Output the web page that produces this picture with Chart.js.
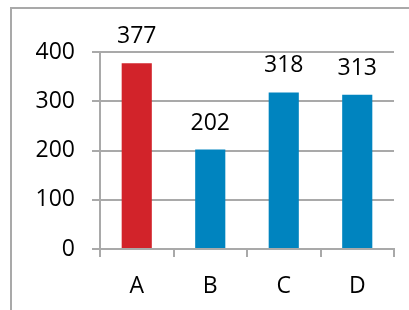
<!DOCTYPE html>
<html>
<head>
<meta charset="utf-8">
<script src="https://cdn.jsdelivr.net/npm/chart.js@4"></script>
<style>
  html, body { margin: 0; padding: 0; background: #fff; }
  #wrap { width: 409px; height: 310px; }
</style>
</head>
<body>
<div id="wrap"><canvas id="chart"></canvas></div>
<script>
const categories = ['A', 'B', 'C', 'D'];
const values = [377, 202, 318, 313];
const yTicks = [0, 100, 200, 300, 400];

const barColors = ['#d2232a', '#0084bf', '#0084bf', '#0084bf'];
const lineGrey = '#a9a9a9';

Chart.defaults.font.family = '"Open Sans", sans-serif';
Chart.defaults.font.size = 23;
Chart.defaults.color = '#000';

// outer frame (left + top edge of the original chart box)
const frame = {
  id: 'frame',
  beforeDraw(chart) {
    const ctx = chart.ctx;
    ctx.save();
    ctx.strokeStyle = lineGrey;
    ctx.lineWidth = 2;
    ctx.beginPath();
    ctx.moveTo(11, chart.height);
    ctx.lineTo(11, 8);
    ctx.lineTo(chart.width, 8);
    ctx.stroke();
    ctx.restore();
  }
};

const valueLabels = {
  id: 'valueLabels',
  afterDatasetsDraw(chart) {
    const ctx = chart.ctx;
    ctx.save();
    ctx.font = '23px "Open Sans"';
    ctx.fillStyle = '#000';
    ctx.textAlign = 'center';
    ctx.textBaseline = 'alphabetic';
    chart.getDatasetMeta(0).data.forEach((bar, i) => {
      ctx.fillText(values[i], bar.x, bar.y - 20);
    });
    ctx.restore();
  }
};

new Chart(document.getElementById('chart'), {
  type: 'bar',
  data: {
    labels: categories,
    datasets: [{
      data: values,
      backgroundColor: barColors,
      borderWidth: 0,
      barPercentage: 0.41,
      categoryPercentage: 1
    }]
  },
  options: {
    responsive: true,
    maintainAspectRatio: false,
    animation: false,
    layout: { padding: { left: 0, top: 52, right: 15, bottom: 0 } },
    plugins: {
      legend: { display: false },
      tooltip: { enabled: false }
    },
    scales: {
      x: {
        afterFit: s => { s.height = 61; },
        grid: {
          drawOnChartArea: false,
          drawTicks: true,
          tickLength: 8,
          color: lineGrey,
          lineWidth: 2
        },
        border: { display: true, color: lineGrey, width: 2 },
        ticks: { padding: 16 }
      },
      y: {
        min: 0,
        max: 400,
        afterFit: s => { s.width = 100; },
        afterBuildTicks: s => { s.ticks = yTicks.map(v => ({ value: v })); },
        grid: {
          tickLength: 8,
          color: lineGrey,
          lineWidth: 2
        },
        border: { display: true, color: lineGrey, width: 2 },
        ticks: { padding: 17 }
      }
    }
  },
  plugins: [frame, valueLabels]
});
</script>
</body>
</html>
